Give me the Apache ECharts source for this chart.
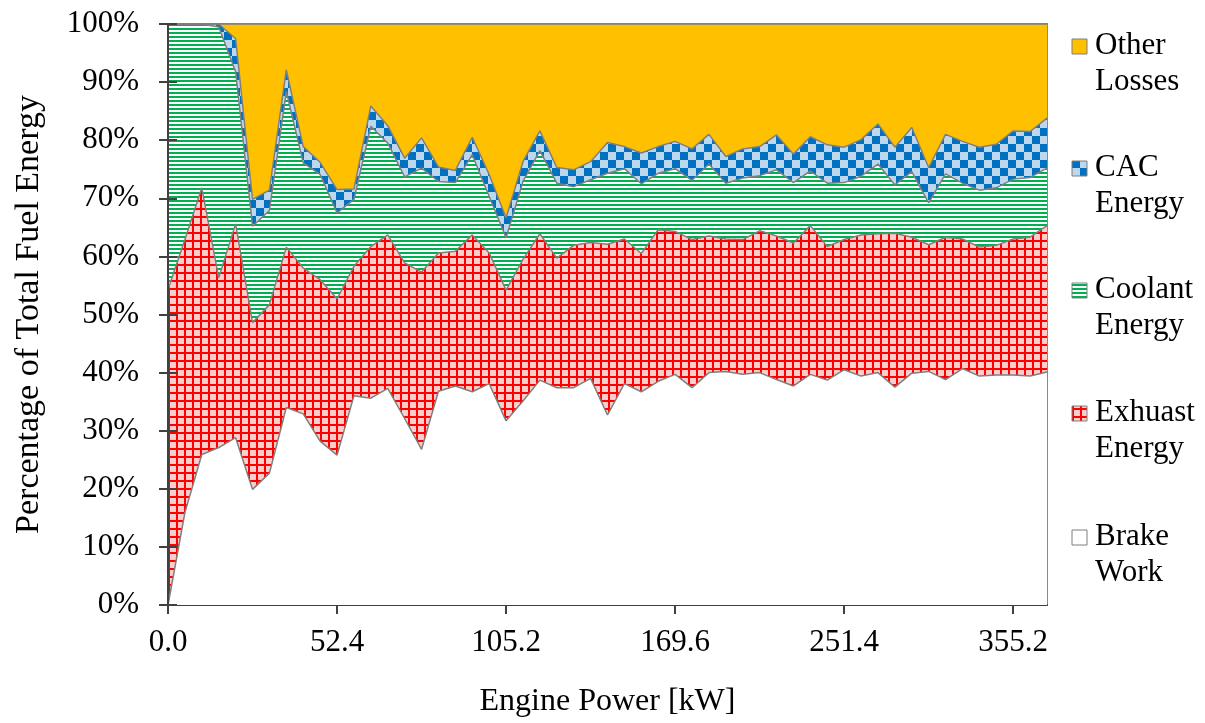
<!DOCTYPE html>
<html>
<head>
<meta charset="utf-8">
<script src="https://cdn.jsdelivr.net/npm/echarts@6/dist/echarts.min.js"></script>
<style>
html,body{margin:0;padding:0;background:#fff;}
#chart{width:1205px;height:723px;}
</style>
</head>
<body>
<div id="chart"></div>
<script>
// Engine power categories (kW); only every 10th is labelled on the axis
const categories = ['0.0','5.2','10.5','15.7','21.0','26.2','31.4','36.7','41.9','47.2',
  '52.4','57.7','63.0','68.2','73.5','78.8','84.1','89.4','94.6','99.9',
  '105.2','111.6','118.1','124.5','131.0','137.4','143.8','150.3','156.7','163.2',
  '169.6','177.8','186.0','194.1','202.3','210.5','218.7','226.9','235.0','243.2',
  '251.4','261.8','272.2','282.5','292.9','303.3','313.7','324.1','334.4','344.8',
  '355.2','365.6','376.0'];

// Shares of total fuel energy (%), stacked bottom to top
const brakeWork = [0,15.9,25.9,27.1,28.8,19.9,22.7,34.0,32.9,28.2,
  25.8,36.0,35.6,37.3,32.1,26.8,36.8,37.7,36.7,38.1,
  31.7,35.1,38.7,37.4,37.4,39.0,32.7,38.1,36.7,38.5,
  39.7,37.4,40.0,40.2,39.7,40.0,38.8,37.7,39.7,38.7,
  40.5,39.4,40.0,37.5,39.9,40.2,38.8,40.7,39.4,39.6,
  39.6,39.4,40.1];
const exhaustEnergy = [54.3,47.0,45.9,29.2,36.8,28.7,29.0,27.6,25.1,27.8,
  26.9,22.3,26.1,26.4,26.8,30.5,23.8,23.2,27.0,22.5,
  22.5,24.4,25.2,22.3,24.5,23.4,29.4,24.9,23.8,26.1,
  24.6,25.5,23.5,22.8,23.2,24.4,24.7,24.6,25.6,23.0,
  22.4,24.3,23.9,26.5,23.4,21.8,24.5,22.3,22.2,22.3,
  23.4,23.9,25.2];
const coolantEnergy = [45.7,37.1,28.2,43.2,26.2,16.6,16.2,26.8,18.1,18.1,
  14.8,11.5,20.7,15.8,14.8,17.9,12.3,11.8,13.8,9.7,
  9.0,13.4,14.3,12.9,10.1,10.8,12.2,12.1,12.0,9.7,
  10.8,10.2,12.4,9.6,10.6,9.5,11.4,10.4,9.4,10.9,
  9.8,10.1,12.0,8.3,11.3,7.2,10.9,9.6,9.8,9.9,
  10.3,10.3,9.9];
const cacEnergy = [0,0,0,0.5,5.7,4.6,3.5,3.7,2.8,2.1,
  4.0,1.8,3.5,3.0,3.2,5.2,2.5,2.1,3.0,3.8,
  3.4,3.4,3.4,2.7,2.9,3.1,5.3,3.8,5.3,4.6,
  4.7,5.4,5.1,4.6,5.0,5.0,6.0,4.9,5.9,6.6,
  6.1,6.3,6.9,6.5,7.6,6.1,6.8,7.2,7.4,7.5,
  8.3,7.9,8.6];
const otherLosses = [0,0,0,0,2.5,30.2,28.6,7.9,21.1,23.8,
  28.5,28.4,14.1,17.5,23.1,19.6,24.6,25.2,19.5,25.9,
  33.4,23.7,18.4,24.7,25.1,23.7,20.4,21.1,22.2,21.1,
  20.2,21.5,19.0,22.8,21.5,21.1,19.1,22.4,19.4,20.8,
  21.2,19.9,17.2,21.2,17.8,24.7,19.0,20.2,21.2,20.7,
  18.4,18.5,16.2];

const yTicks = [0,10,20,30,40,50,60,70,80,90,100];
const legendNames = [['Other','Losses'],['CAC','Energy'],['Coolant','Energy'],['Exhuast','Energy'],['Brake','Work']];

function tile(w,h,draw){
  const c=document.createElement('canvas'); c.width=w; c.height=h;
  draw(c.getContext('2d')); return c;
}
const gridTile = tile(8,8,function(ctx){
  ctx.fillStyle='#ffcccc'; ctx.fillRect(0,0,8,8);
  ctx.fillStyle='#ff0000'; ctx.fillRect(0,0,8,2); ctx.fillRect(0,0,2,8);
});
const stripeTile = tile(4,4,function(ctx){
  ctx.fillStyle='#ffffff'; ctx.fillRect(0,0,4,4);
  ctx.fillStyle='#00b050'; ctx.fillRect(0,0,4,2);
});
const checkTile = tile(16,16,function(ctx){
  ctx.fillStyle='#bdd7ee'; ctx.fillRect(0,0,16,16);
  ctx.fillStyle='#0070c0'; ctx.fillRect(0,0,8,8); ctx.fillRect(8,8,8,8);
});
const pat = function(c){ return {image:c, repeat:'repeat'}; };

const FONT = '"Liberation Serif","Times New Roman",serif';
const lineStyle = {color:'#7f7f7f', width:1.5};

function areaSeries(name, data, fill, solid){
  return {
    name:name, type:'line', stack:'total', data:data,
    symbol:'none', showSymbol:false, smooth:false,
    lineStyle:lineStyle,
    itemStyle:{color:solid},
    areaStyle:{color:fill, opacity:1},
    emphasis:{disabled:true}
  };
}

const chart = echarts.init(document.getElementById('chart'), null, {renderer:'canvas'});

const legendFills = [
  '#ffc000',
  pat(checkTile),
  pat(stripeTile),
  pat(gridTile),
  '#ffffff'
];
const baselines = [56,178,300,423,547];
const graphics = [];
legendNames.forEach(function(nm,k){
  const b = baselines[k];
  graphics.push({type:'rect', shape:{x:1072,y:b-17,width:15,height:15},
    style:{fill:legendFills[k], stroke:'#7f7f7f', lineWidth:1}});
  graphics.push({type:'text', x:1095, y:b-10.5,
    style:{text:nm[0], font:'31px '+FONT, fill:'#000', verticalAlign:'middle', align:'left'}});
  graphics.push({type:'text', x:1095, y:b+25.5,
    style:{text:nm[1], font:'31px '+FONT, fill:'#000', verticalAlign:'middle', align:'left'}});
});

chart.setOption({
  animation:false,
  backgroundColor:'#ffffff',
  grid:{left:168, right:158, top:24, bottom:118, show:true, borderColor:'#898989', borderWidth:2, backgroundColor:'transparent'},
  xAxis:{
    type:'category', data:categories, boundaryGap:false,
    name:'Engine Power [kW]', nameLocation:'middle', nameGap:81,
    nameTextStyle:{fontFamily:FONT, fontSize:32, color:'#000'},
    axisLine:{show:true, lineStyle:{color:'#404040', width:2}},
    axisTick:{show:true, interval:9, length:9, lineStyle:{color:'#404040', width:2}},
    axisLabel:{interval:9, margin:22, fontFamily:FONT, fontSize:31, color:'#000', hideOverlap:false},
    splitLine:{show:false}
  },
  yAxis:[{
    type:'value', min:yTicks[0], max:yTicks[yTicks.length-1], interval:10, z:10,
    name:'Percentage of Total Fuel Energy', nameLocation:'middle', nameGap:122,
    nameTextStyle:{fontFamily:FONT, fontSize:34, color:'#000'},
    axisLine:{show:true, lineStyle:{color:'#404040', width:2}},
    axisTick:{show:true, length:9, lineStyle:{color:'#404040', width:2}},
    axisLabel:{margin:29, fontFamily:FONT, fontSize:31, color:'#000', formatter:'{value}%'},
    splitLine:{show:false}
  },{
    type:'value', position:'left', min:0, max:100, interval:10, offset:0, z:10,
    axisLine:{show:false},
    axisTick:{show:true, inside:true, length:9, lineStyle:{color:'#404040', width:2}},
    axisLabel:{show:false}, splitLine:{show:false}
  }],
  series:[
    areaSeries('Brake Work', brakeWork, '#ffffff', '#ffffff'),
    areaSeries('Exhuast Energy', exhaustEnergy, pat(gridTile), '#ff0000'),
    areaSeries('Coolant Energy', coolantEnergy, pat(stripeTile), '#00b050'),
    areaSeries('CAC Energy', cacEnergy, pat(checkTile), '#0070c0'),
    areaSeries('Other Losses', otherLosses, '#ffc000', '#ffc000')
  ],
  graphic:graphics
});
</script>
</body>
</html>
